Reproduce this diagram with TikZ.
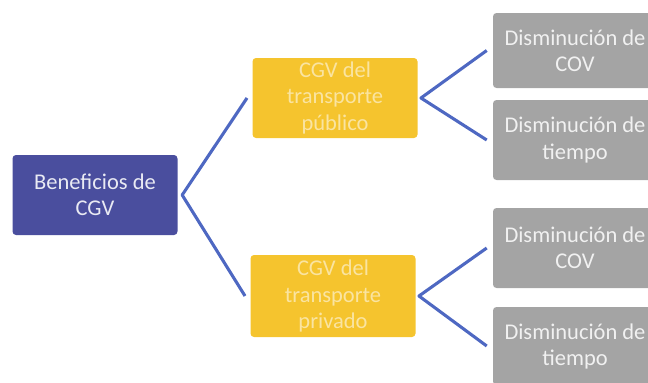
\documentclass[tikz,border=0pt]{standalone}
\usepackage{fontspec}
\setmainfont{Carlito}
\usepackage{xcolor}
\usetikzlibrary{positioning,calc}
\definecolor{cgvblue}{RGB}{74,78,158}
\definecolor{cgvyellow}{RGB}{245,196,46}
\definecolor{cgvgray}{RGB}{164,164,164}
\definecolor{cgvline}{RGB}{78,104,194}
\tikzset{
	box/.style={rounded corners=2.5pt, inner sep=0pt, align=center,
		minimum width=4.125cm, minimum height=2cm,
		font=\fontsize{16}{18.5}\selectfont},
	rootbox/.style={box, fill=cgvblue, text=white!88!cgvblue},
	typebox/.style={box, fill=cgvyellow, text=white!55!cgvyellow},
	effectbox/.style={box, fill=cgvgray, text=white!85!cgvgray, minimum width=4.1cm},
	link/.style={draw=cgvline, line width=2.2pt, line join=round}
}

\begin{document}
\begin{tikzpicture}
	\useasboundingbox (0,0) rectangle (16.2,-9.55);
	\node (root) [rootbox] at (2.375,-4.875) {Beneficios de\\CGV};
	\node (pub) [typebox] at (8.375,-2.45) {CGV del\\transporte\\público};
	\node (priv) [typebox, minimum height=2.05cm] at (8.325,-7.4) {CGV del\\transporte\\privado};
	\node (pubcov) [effectbox, minimum height=1.875cm] at (14.375,-1.2625) {Disminución de\\COV};
	\node (pubtime) [effectbox] at (14.375,-3.5) {Disminución de\\tiempo};
	\node (privcov) [effectbox] at (14.375,-6.2) {Disminución de\\COV};
	\node (privtime) [effectbox, minimum height=1.95cm] at (14.375,-8.65) {Disminución de\\tiempo};
	% forks
	\coordinate (rootfork) at ([xshift=0.11cm]root.east);
	\coordinate (pubfork) at ([xshift=0.08cm]pub.east);
	\coordinate (privfork) at ([xshift=0.08cm]priv.east);
	\draw[link] ([xshift=-0.13cm]pub.west) -- (rootfork) -- ([xshift=-0.13cm]priv.west);
	\draw[link] ([xshift=-0.15cm]pubcov.west) -- (pubfork) -- ([xshift=-0.15cm]pubtime.west);
	\draw[link] ([xshift=-0.15cm]privcov.west) -- (privfork) -- ([xshift=-0.15cm]privtime.west);
\end{tikzpicture}
\end{document}
